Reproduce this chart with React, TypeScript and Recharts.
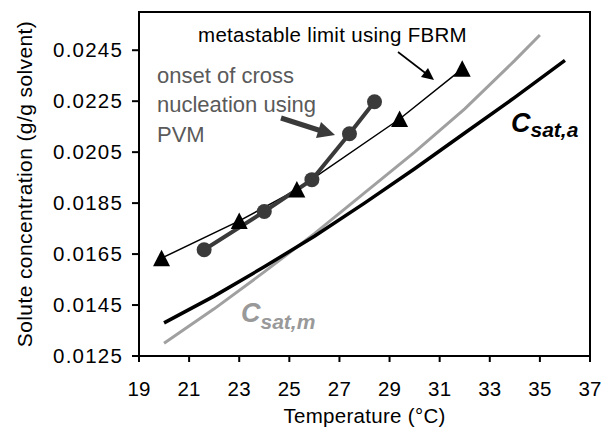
import { LineChart, Line, XAxis, YAxis, ReferenceArea, Label } from 'recharts';

const metaT = [19.9, 23.0, 25.3, 29.4, 31.9];
const metaC = [0.01634, 0.0178, 0.01903, 0.0218, 0.02377];
const pvmT = [21.6, 24.0, 25.9, 27.4, 28.4];
const pvmC = [0.01667, 0.01817, 0.01942, 0.02122, 0.02248];
const satAT = [20, 22, 24, 26, 28, 30, 32, 34, 36];
const satAC = [0.0138, 0.01485, 0.016, 0.0172, 0.0185, 0.01985, 0.02125, 0.02265, 0.0241];
const satMT = [20, 22, 24, 26, 28, 30, 32, 34, 35];
const satMC = [0.013, 0.01435, 0.0158, 0.0173, 0.0189, 0.0205, 0.0222, 0.0241, 0.0251];
const xTicks = [19, 21, 23, 25, 27, 29, 31, 33, 35, 37];
const yTicks = [0.0125, 0.0145, 0.0165, 0.0185, 0.0205, 0.0225, 0.0245];

const toRows = (ts: number[], cs: number[]) => ts.map((t, i) => ({ t, c: cs[i] }));

const FONT = 'Arial, "Liberation Sans", sans-serif';

const Triangle = (props: any) => {
  const { cx, cy } = props;
  if (cx == null || cy == null) return null;
  return <polygon points={`${cx},${cy - 8.5} ${cx - 8.5},${cy + 8} ${cx + 8.5},${cy + 8}`} fill="#000" />;
};

const Dot = (props: any) => {
  const { cx, cy } = props;
  if (cx == null || cy == null) return null;
  return <circle cx={cx} cy={cy} r={7.5} fill="#3a3a3a" />;
};

export default function App() {
  const xTickStyle = { fill: '#000', fontSize: 20.5, fontFamily: FONT, letterSpacing: 0.2 };
  const yTickStyle = { fill: '#000', fontSize: 20.5, fontFamily: FONT, letterSpacing: 1.2 };
  return (
    <div style={{ position: 'absolute', left: 0, top: 0, width: 603, height: 430, background: '#fff' }}>
      <LineChart width={603} height={430} margin={{ top: 12, right: 13, bottom: 0, left: 0 }}>
        <XAxis
          type="number"
          dataKey="t"
          domain={[19, 37]}
          ticks={xTicks}
          interval={0}
          tickSize={6}
          tickMargin={19}
          height={74}
          axisLine={{ stroke: '#000', strokeWidth: 2 }}
          tickLine={{ stroke: '#000', strokeWidth: 2 }}
          tick={xTickStyle}
        >
          <Label value="Temperature (°C)" position="insideBottom" offset={7} style={{ fill: '#000', fontSize: 20.5, fontFamily: FONT, letterSpacing: 0.3 }} />
        </XAxis>
        <YAxis
          type="number"
          domain={[0.0125, 0.026]}
          ticks={yTicks}
          interval={0}
          width={139}
          tickSize={7}
          tickMargin={9}
          tickFormatter={(v: number) => v.toFixed(4)}
          axisLine={{ stroke: '#000', strokeWidth: 2 }}
          tickLine={{ stroke: '#000', strokeWidth: 2 }}
          tick={yTickStyle}
        >
          <Label
            value="Solute concentration (g/g solvent)"
            angle={-90}
            position="insideLeft"
            offset={25}
            style={{ textAnchor: 'middle', fill: '#000', fontSize: 21, fontFamily: FONT, letterSpacing: 0.4 }}
          />
        </YAxis>
        <ReferenceArea x1={19} x2={37} y1={0.0125} y2={0.026} fill="none" stroke="#000" strokeWidth={2} ifOverflow="visible" />
        <Line data={toRows(satMT, satMC)} dataKey="c" type="linear" stroke="#a0a0a0" strokeWidth={3} dot={false} isAnimationActive={false} />
        <Line data={toRows(satAT, satAC)} dataKey="c" type="linear" stroke="#000" strokeWidth={3.5} dot={false} isAnimationActive={false} />
        <Line data={toRows(metaT, metaC)} dataKey="c" type="linear" stroke="#000" strokeWidth={1.5} dot={<Triangle />} isAnimationActive={false} />
        <Line data={toRows(pvmT, pvmC)} dataKey="c" type="linear" stroke="#3a3a3a" strokeWidth={4} dot={<Dot />} isAnimationActive={false} />
      </LineChart>
      <svg width={603} height={430} style={{ position: 'absolute', left: 0, top: 0, pointerEvents: 'none' }}>
        <text x={198} y={42} fontSize={20.5} fontFamily={FONT} fill="#000" letterSpacing={0.3}>metastable limit using FBRM</text>
        <g fontSize={22} fontFamily={FONT} fill="#5a5a5a">
          <text x={157} y={83}>onset of cross</text>
          <text x={157} y={112}>nucleation using</text>
          <text x={157} y={142}>PVM</text>
        </g>
        <line x1={398} y1={52} x2={426} y2={73.5} stroke="#000" strokeWidth={1.6} />
        <polygon points="434,80 421,77 428,68" fill="#000" />
        <line x1={281} y1={118} x2={320} y2={130.5} stroke="#3a3a3a" strokeWidth={5} />
        <polygon points="335,135 316,138 321,122" fill="#3a3a3a" />
        <text x={511} y={132} fontFamily={FONT} fontWeight="bold" fontStyle="italic" fill="#000">
          <tspan fontSize={27}>C</tspan>
          <tspan fontSize={21} dy={5}>sat,a</tspan>
        </text>
        <text x={241} y={322} fontFamily={FONT} fontWeight="bold" fontStyle="italic" fill="#999">
          <tspan fontSize={27}>C</tspan>
          <tspan fontSize={21} dy={7}>sat,m</tspan>
        </text>
      </svg>
    </div>
  );
}
